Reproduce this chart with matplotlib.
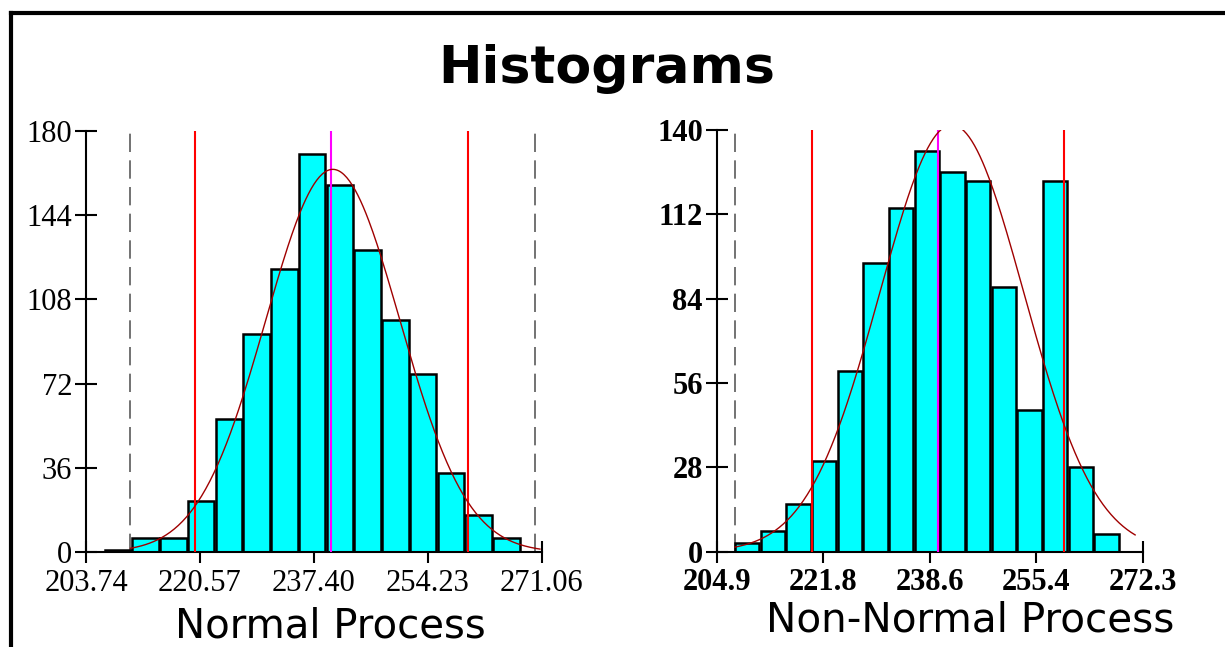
"""Two side-by-side capability histograms: a normal and a non-normal process."""
import numpy as np
import matplotlib
matplotlib.use("Agg")
import matplotlib.pyplot as plt
from matplotlib.lines import Line2D

# ---- normal process -------------------------------------------------------
normal_start = 206.5          # left edge of first bin
normal_bin = 4.1
normal_counts = [1, 6, 6, 22, 57, 93, 121, 170, 157, 129, 99, 76, 34, 16, 6]
normal_xticks = [203.74, 220.57, 237.40, 254.23, 271.06]
normal_xlabels = ["203.74", "220.57", "237.40", "254.23", "271.06"]
normal_yticks = [0, 36, 72, 108, 144, 180]
normal_spec = [219.9, 260.1]        # red lines
normal_limits = [210.3, 270.1]      # grey dashed lines
normal_center = 240.0               # magenta line
normal_fit = dict(mu=240.2, sigma=9.9, peak=163.5, lo=210.3, hi=270.8)

# ---- non-normal process ---------------------------------------------------
skew_start = 207.8
skew_bin = 4.06
skew_counts = [3, 7, 16, 30, 60, 96, 114, 133, 126, 123, 88, 47, 123, 28, 6]
skew_xticks = [204.9, 221.75, 238.6, 255.45, 272.3]
skew_xlabels = ["204.9", "221.8", "238.6", "255.4", "272.3"]
skew_yticks = [0, 28, 56, 84, 112, 140]
skew_spec = [220.0, 259.9]
skew_limits = [207.8]
skew_center = 239.9
skew_fit = dict(mu=242.1, sigma=11.4, peak=141.7, lo=207.8, hi=271.1)

W, H = 1225, 647


def draw_panel(ax, start, width, counts, xticks, xlabels, yticks,
               spec, limits, center, fit, tick_weight):
    edges = start + width * np.arange(len(counts))
    ymax = yticks[-1]
    ax.bar(edges, counts, width=width * 0.95, align="edge",
           color="#00ffff", edgecolor="black", linewidth=1.8, zorder=2)

    for x in limits:
        ax.plot([x, x], [0, ymax], color="#5a5a5a", lw=1.2,
                dashes=(11, 5), zorder=1)
    for x in spec:
        ax.plot([x, x], [0, ymax], color="red", lw=1.5, zorder=3)
    ax.plot([center, center], [0, ymax], color="#ff00ff", lw=1.5, zorder=3)

    # fitted normal curve
    xs = np.linspace(fit["lo"], fit["hi"], 300)
    ys = fit["peak"] * np.exp(-0.5 * ((xs - fit["mu"]) / fit["sigma"]) ** 2)
    ax.plot(xs, ys, color="#a00000", lw=1.0, zorder=4)

    ax.set_xlim(xticks[0], xticks[-1])
    ax.set_ylim(0, ymax)
    ax.set_xticks(xticks)
    ax.set_xticklabels(xlabels)
    ax.set_yticks(yticks)
    for side in ("top", "right"):
        ax.spines[side].set_visible(False)
    for side in ("left", "bottom"):
        ax.spines[side].set_linewidth(1.5)
    ax.tick_params(direction="inout", length=16, width=1.5, pad=2,
                   labelsize=22)
    ax.tick_params(axis="x", pad=4)
    for lab in ax.get_xticklabels() + ax.get_yticklabels():
        lab.set_fontfamily("Liberation Serif")
        lab.set_fontweight(tick_weight)
    ax.set_facecolor("none")


def main():
    fig = plt.figure(figsize=(W / 100, H / 100), dpi=100)
    fig.patch.set_facecolor("white")

    ax_l = fig.add_axes([86 / W, 1 - 552.3 / H, 455.7 / W, 421.6 / H])
    ax_r = fig.add_axes([716.7 / W, 1 - 551.7 / H, 426 / W, 421.7 / H])

    draw_panel(ax_l, normal_start, normal_bin, normal_counts, normal_xticks,
               normal_xlabels, normal_yticks, normal_spec, normal_limits,
               normal_center, normal_fit, "normal")
    draw_panel(ax_r, skew_start, skew_bin, skew_counts, skew_xticks,
               skew_xlabels, skew_yticks, skew_spec, skew_limits,
               skew_center, skew_fit, "bold")

    fig.text(607 / W, 1 - 83 / H, "Histograms", ha="center", va="baseline",
             fontsize=37.5, fontweight="bold", family="DejaVu Sans")
    fig.text(330 / W, 1 - 638 / H, "Normal Process", ha="center",
             va="baseline", fontsize=29, family="DejaVu Sans")
    fig.text(970 / W, 1 - 631 / H, "Non-Normal Process", ha="center",
             va="baseline", fontsize=29.2, family="DejaVu Sans")

    # frame lines along top and left edge
    fig.add_artist(Line2D([11 / W, 1], [1 - 13 / H, 1 - 13 / H],
                          color="black", lw=3, transform=fig.transFigure))
    fig.add_artist(Line2D([11 / W, 11 / W], [0, 1 - 13 / H],
                          color="black", lw=3, transform=fig.transFigure))

    fig.savefig("out.png", dpi=100)


if __name__ == "__main__":
    main()
